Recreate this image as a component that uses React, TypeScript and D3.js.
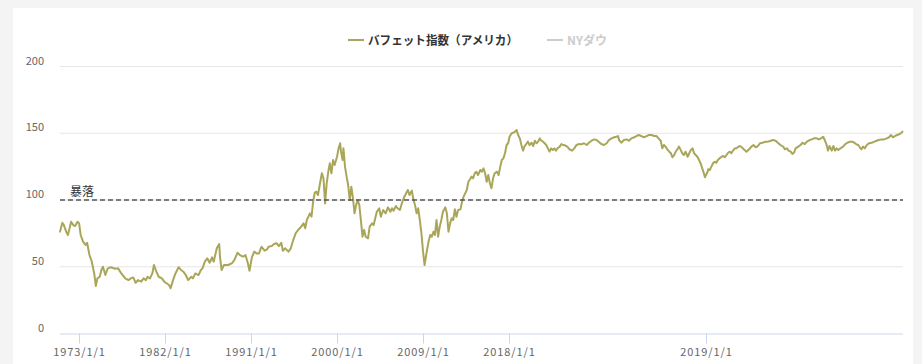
import React from "react";
import * as d3 from "d3";

// ---- data ----
const legendNames = ["バフェット指数（アメリカ）", "NYダウ"];
const yTicks = [0, 50, 100, 150, 200];
const xTickDates = ["1973-01-01", "1982-01-01", "1991-01-01", "2000-01-01", "2009-01-01", "2018-01-01", "2019-01-01"];
const xTickLabels = ["1973/1/1", "1982/1/1", "1991/1/1", "2000/1/1", "2009/1/1", "2018/1/1", "2019/1/1"];
const crashLevel = 100;
const crashLabel = "暴落";

// monthly observations 1971 - 2017
const monthlyDates = [
  "1971-01","1971-04","1971-06","1971-09","1971-11","1972-03","1972-06","1972-08","1972-11","1973-01",
  "1973-03","1973-06","1973-09","1973-11","1974-02","1974-05","1974-08","1974-10","1974-12","1975-03",
  "1975-05","1975-07","1975-10","1976-01","1976-05","1976-10","1977-02","1977-06","1977-11","1978-03",
  "1978-06","1978-09","1978-12","1979-03","1979-07","1979-10","1980-01","1980-03","1980-06","1980-09",
  "1980-11","1981-02","1981-05","1981-09","1981-12","1982-03","1982-06","1982-08","1982-11","1983-02",
  "1983-06","1983-09","1983-12","1984-03","1984-06","1984-10","1984-12","1985-03","1985-07","1985-10",
  "1985-12","1986-03","1986-06","1986-09","1986-12","1987-02","1987-06","1987-09","1987-10","1987-12",
  "1988-03","1988-08","1989-01","1989-04","1989-08","1989-11","1990-03","1990-06","1990-09","1990-11",
  "1991-02","1991-05","1991-08","1991-11","1992-02","1992-06","1992-09","1992-11","1993-03","1993-06",
  "1993-09","1993-12","1994-03","1994-05","1994-08","1994-12","1995-03","1995-06","1995-09","1995-12",
  "1996-04","1996-07","1996-09","1996-11","1997-01","1997-03","1997-05","1997-07","1997-09","1997-11",
  "1998-01","1998-04","1998-06","1998-08","1998-10","1998-12","1999-02","1999-04","1999-06","1999-08",
  "1999-10","2000-01","2000-03","2000-05","2000-06","2000-08","2000-09","2000-11","2001-01","2001-03",
  "2001-05","2001-07","2001-09","2001-11","2002-01","2002-03","2002-05","2002-07","2002-09","2002-11",
  "2003-01","2003-04","2003-06","2003-09","2003-11","2004-01","2004-03","2004-06","2004-08","2004-11",
  "2005-02","2005-05","2005-08","2005-10","2005-12","2006-03","2006-05","2006-08","2006-11","2007-02",
  "2007-06","2007-08","2007-11","2008-01","2008-03","2008-05","2008-07","2008-09","2008-11","2009-01",
  "2009-03","2009-06","2009-08","2009-10","2009-12","2010-02","2010-04","2010-06","2010-08","2010-10",
  "2010-12","2011-02","2011-05","2011-07","2011-09","2011-11","2012-01","2012-03","2012-05","2012-07",
  "2012-09","2012-12","2013-02","2013-04","2013-06","2013-08","2013-10","2013-12","2014-02","2014-04",
  "2014-06","2014-08","2014-10","2015-01","2015-03","2015-05","2015-07","2015-09","2015-11","2016-01",
  "2016-03","2016-05","2016-07","2016-10","2016-12","2017-02","2017-04","2017-06","2017-08","2017-10",
  "2017-12",
];
const monthlyValues = [
  76.3, 83, 81, 76, 73.8, 83.7, 81, 80.5, 83.7, 82.5,
  73.8, 68.8, 66.3, 68, 58.8, 53.8, 45, 35.6, 41.3, 42.5,
  47.6, 50, 43.8, 48.8, 49.6, 48.5, 48.8, 45, 41.3, 40,
  41.3, 42, 38, 40, 38.8, 41.3, 40, 42.5, 41.3, 45,
  51.3, 46.3, 42.5, 41.3, 38.8, 37.6, 36.3, 33.9, 40, 45,
  49.6, 47.6, 46.3, 43.8, 40, 42.5, 41.3, 45, 43.8, 47.6,
  48.8, 53.8, 56.3, 53, 57, 53.8, 63.8, 67, 57.5, 47.6,
  51.3, 51.3, 52.6, 55, 60.5, 58.8, 57.5, 58.8, 52.6, 47,
  57, 61.3, 60, 60, 65, 62, 63, 65, 65.5, 67,
  67.6, 65.5, 68, 62, 63.8, 61.3, 63.8, 70, 75, 77.5,
  80, 82.5, 78.8, 85, 87.5, 90, 87.5, 98.7, 105.5, 106.2,
  103.7, 113.7, 120, 116.3, 97.5, 112.5, 121.2, 127.5, 120, 130,
  126.2, 132.4, 138.7, 142.5, 136.2, 130, 138.7, 125, 117.5, 111.2,
  100, 110, 101.3, 90, 96.3, 100, 96.3, 85, 72.5, 77.5,
  72.5, 71.3, 80, 82.5, 81.2, 86.3, 91.2, 93.8, 87.5, 92.5,
  90, 94.5, 91.2, 93.8, 92, 95.5, 93.8, 92.5, 98.7, 103,
  107.5, 103.7, 107, 100, 96.3, 90, 93.8, 85, 75, 61.3,
  51.3, 62.5, 68.8, 73.8, 72.5, 76.2, 73.8, 85, 72.5, 80,
  85, 91.2, 94.5, 90, 76.2, 82.5, 86.3, 85, 93, 87.5,
  92.5, 93, 98.7, 102.5, 105, 107.5, 113.7, 115.5, 117.5, 116.3,
  120, 121.2, 118.7, 122.5, 121.2, 123.7, 120, 113.7, 118.7, 112.5,
  108.8, 116.3, 120, 121.2, 118.7, 125, 130, 131.2, 135, 141.2,
  142.5,
];

// daily observations 2018 - 2019
const dailyDates = [
  "2018-01-02","2018-01-06","2018-01-09","2018-01-12","2018-01-15","2018-01-18","2018-01-21","2018-01-24","2018-01-27","2018-01-30",
  "2018-02-02","2018-02-05","2018-02-08","2018-02-12","2018-02-15","2018-02-18","2018-02-21","2018-02-24","2018-02-27","2018-03-02",
  "2018-03-05","2018-03-08","2018-03-11","2018-03-14","2018-03-17","2018-03-20","2018-03-23","2018-03-26","2018-03-29","2018-04-01",
  "2018-04-05","2018-04-08","2018-04-11","2018-04-14","2018-04-19","2018-04-23","2018-04-28","2018-05-02","2018-05-06","2018-05-10",
  "2018-05-15","2018-05-20","2018-05-25","2018-05-29","2018-06-03","2018-06-08","2018-06-12","2018-06-16","2018-06-21","2018-06-26",
  "2018-07-01","2018-07-05","2018-07-10","2018-07-15","2018-07-19","2018-07-22","2018-07-24","2018-07-28","2018-08-02","2018-08-07",
  "2018-08-11","2018-08-16","2018-08-21","2018-08-25","2018-08-29","2018-09-03","2018-09-08","2018-09-13","2018-09-17","2018-09-22",
  "2018-09-27","2018-10-01","2018-10-05","2018-10-09","2018-10-12","2018-10-15","2018-10-18","2018-10-22","2018-10-25","2018-10-28",
  "2018-10-31","2018-11-03","2018-11-06","2018-11-09","2018-11-12","2018-11-15","2018-11-18","2018-11-21","2018-11-24","2018-11-28",
  "2018-12-01","2018-12-04","2018-12-07","2018-12-10","2018-12-13","2018-12-16","2018-12-19","2018-12-22","2018-12-25","2018-12-28",
  "2018-12-30","2019-01-04","2019-01-05","2019-01-08","2019-01-11","2019-01-14","2019-01-17","2019-01-20","2019-01-23","2019-01-26",
  "2019-01-30","2019-02-02","2019-02-05","2019-02-08","2019-02-11","2019-02-14","2019-02-17","2019-02-20","2019-02-23","2019-02-26",
  "2019-03-01","2019-03-04","2019-03-07","2019-03-12","2019-03-17","2019-03-22","2019-03-26","2019-03-30","2019-04-03","2019-04-07",
  "2019-04-11","2019-04-16","2019-04-21","2019-04-26","2019-05-01","2019-05-05","2019-05-10","2019-05-14","2019-05-19","2019-05-24",
  "2019-05-27","2019-05-31","2019-06-03","2019-06-07","2019-06-10","2019-06-13","2019-06-16","2019-06-21","2019-06-25","2019-06-29",
  "2019-07-03","2019-07-07","2019-07-12","2019-07-16","2019-07-20","2019-07-25","2019-07-29","2019-08-02","2019-08-06","2019-08-09",
  "2019-08-12","2019-08-15","2019-08-18","2019-08-22","2019-08-25","2019-08-28","2019-08-31","2019-09-03","2019-09-07","2019-09-12",
  "2019-09-16","2019-09-20","2019-09-25","2019-09-29","2019-10-03","2019-10-06","2019-10-10","2019-10-13","2019-10-16","2019-10-19",
  "2019-10-22","2019-10-26","2019-10-30","2019-11-04","2019-11-09","2019-11-13","2019-11-17","2019-11-22","2019-11-27","2019-12-02",
  "2019-12-06","2019-12-10","2019-12-13","2019-12-17","2019-12-21","2019-12-26","2019-12-29","2019-12-31",
];
const dailyValues = [
  147.4, 150, 150.4, 151.2, 152.4, 148.7, 146.2, 141.2, 137, 140.4,
  141.9, 143.7, 141.2, 142.9, 140.4, 144.4, 142.5, 143.7, 146.2, 144.4,
  143.7, 142.5, 141.2, 138.7, 136.2, 138.7, 137.5, 138.7, 137, 138.7,
  140, 141.9, 141.2, 141, 140, 138, 137, 138.7, 141.2, 141.9,
  141.7, 142.5, 141.2, 142.9, 144.4, 145.4, 144.9, 143.7, 141.9, 141.2,
  142.5, 144.9, 146.2, 147, 147.4, 147.9, 144.9, 142.9, 144.9, 145.4,
  144.4, 146.2, 147, 147.9, 148.7, 147.9, 147, 147.9, 148.7, 148.7,
  147.9, 147.9, 146.2, 144.4, 138.7, 141.2, 140, 137.5, 136.2, 135,
  132, 133.7, 136.2, 138, 140, 137.5, 135, 133.7, 136.2, 132.4,
  135, 137.5, 138.7, 135, 133.7, 132.4, 130, 127.5, 123.7, 120,
  117, 121.2, 123, 122.5, 125, 127.5, 128.7, 128, 130, 131.2,
  132.4, 133, 132, 133.7, 135.4, 136.2, 135, 137, 138.5, 138.7,
  139.5, 140.4, 140, 138, 136.2, 138, 140, 141.2, 139.5, 140.4,
  142.5, 142.9, 143.7, 143.7, 144.4, 144.9, 144.4, 142.9, 141.2, 140,
  138, 138.7, 137, 136.2, 134.5, 135.4, 138.7, 140, 141.2, 142.9,
  141.9, 143.7, 144.9, 145.4, 146.2, 146.2, 145.4, 146.2, 147.4, 144.9,
  141.9, 137, 140.4, 137, 140.4, 137, 138.7, 137.5, 138.7, 140,
  141.9, 142.9, 143.7, 143.7, 142.9, 141.9, 141.2, 139.5, 138, 140,
  138.7, 141.2, 142.5, 142.9, 143.7, 144.4, 144.9, 145.4, 145.4, 146.2,
  147, 148.7, 147, 147.9, 148.7, 149.4, 150.4, 151.2,
];

// ---- chart ----
const W = 922;
const H = 364;
const LINE_COLOR = "#a9a65a";
const FONT = "'Noto Sans CJK JP', 'Noto Sans', sans-serif";

const parseMonth = d3.timeParse("%Y-%m");
const parseDay = d3.timeParse("%Y-%m-%d");

export default function App() {
  const series = [
    ...monthlyDates.map((d, i) => ({ date: parseMonth(d) as Date, value: monthlyValues[i] })),
    ...dailyDates.map((d, i) => ({ date: parseDay(d) as Date, value: dailyValues[i] })),
  ];

  const plotLeft = 60;
  const plotRight = 903;
  const plotTop = 66.5;
  const plotBottom = 333.5;

  // category-like axis: monthly points before 2018, daily points after
  const x = d3
    .scaleTime()
    .domain([new Date(1971, 0, 1), new Date(2018, 0, 1), new Date(2020, 0, 1)])
    .range([plotLeft, 509, plotRight]);
  const y = d3.scaleLinear().domain([0, 200]).range([plotBottom, plotTop]);

  const line = d3
    .line<{ date: Date; value: number }>()
    .x((d) => x(d.date))
    .y((d) => y(d.value));

  const tickDates = xTickDates.map((d) => parseDay(d) as Date);

  return (
    <div style={{ position: "absolute", left: 0, top: 0 }}>
      <svg width={W} height={H} style={{ display: "block" }} fontFamily={FONT}>
        <rect x={0} y={0} width={W} height={H} fill="#f4f4f4" />
        <rect x={13} y={8} width={900} height={H - 8} fill="#ffffff" />

        {/* legend */}
        <g>
          <line x1={348} x2={364} y1={40} y2={40} stroke={LINE_COLOR} strokeWidth={2} />
          <text x={368} y={44.5} fontSize={12} fontWeight="bold" fill="#333333" textLength={150} lengthAdjust="spacingAndGlyphs">
            {legendNames[0]}
          </text>
          <line x1={547} x2={563} y1={40} y2={40} stroke="#cccccc" strokeWidth={2} />
          <text x={567} y={44.5} fontSize={12} fontWeight="bold" fill="#cccccc">
            {legendNames[1]}
          </text>
        </g>

        {/* grid lines */}
        {yTicks
          .filter((t) => t !== 0)
          .map((t) => (
            <line key={t} x1={plotLeft} x2={plotRight} y1={y(t)} y2={y(t)} stroke="#e6e6e6" strokeWidth={1} />
          ))}

        {/* y labels */}
        {yTicks.map((t) => (
          <text key={t} x={44} y={y(t) - 2} fontSize={11} fill="#666666" textAnchor="end">
            {t}
          </text>
        ))}

        {/* x axis */}
        <line x1={plotLeft} x2={plotRight} y1={plotBottom + 0.5} y2={plotBottom + 0.5} stroke="#ccd6eb" strokeWidth={1} />
        {tickDates.map((d, i) => (
          <g key={xTickLabels[i]} transform={`translate(${Math.round(x(d)) + 0.5},0)`}>
            <line y1={plotBottom} y2={plotBottom + 10} stroke="#ccd6eb" strokeWidth={1} />
            <text y={356} fontSize={11} fill="#666666" textAnchor="middle" letterSpacing={0.9}>
              {xTickLabels[i]}
            </text>
          </g>
        ))}

        {/* series */}
        <path d={line(series) || ""} fill="none" stroke={LINE_COLOR} strokeWidth={2} strokeLinejoin="round" strokeLinecap="round" />

        {/* crash plot line */}
        <line x1={plotLeft} x2={plotRight} y1={y(crashLevel)} y2={y(crashLevel)} stroke="#555555" strokeWidth={1.3} strokeDasharray="5 3" />
        <text x={70} y={y(crashLevel) - 4} fontSize={12} fill="#333333">
          {crashLabel}
        </text>
      </svg>
    </div>
  );
}
